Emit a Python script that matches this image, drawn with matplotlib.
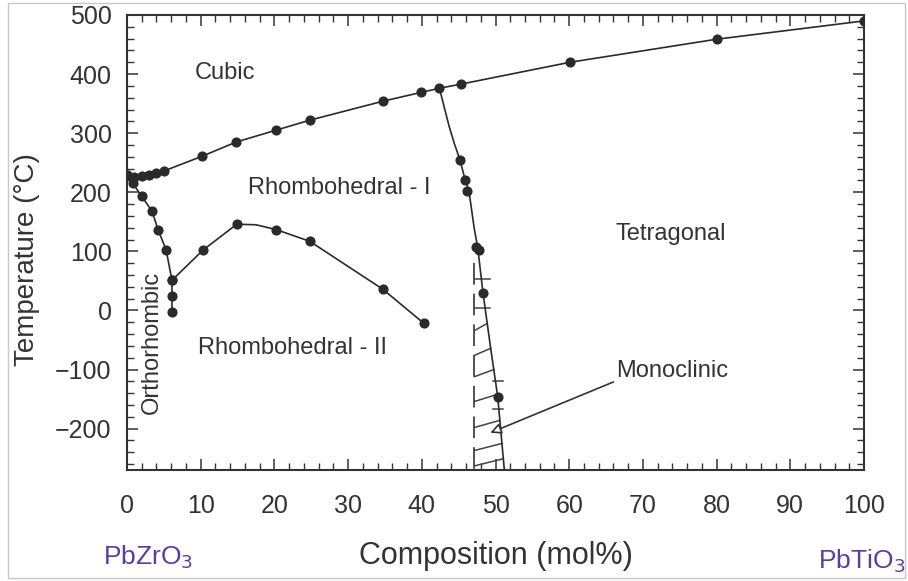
import numpy as np
import matplotlib
matplotlib.use("Agg")
import matplotlib.pyplot as plt
from matplotlib.patches import Rectangle
from matplotlib.ticker import MultipleLocator

plt.rcParams['font.family'] = ['Liberation Sans', 'DejaVu Sans']

# ---- data ----
# Cubic / ferroelectric boundary (Curie line)
cubic_comp = [0, 1, 2, 3, 4, 5, 10.2, 14.8, 20.2, 24.8, 34.7, 39.9, 42.4, 45.3, 60.1, 80.0, 100.0]
cubic_temp = [229, 226, 228, 230, 233, 236, 261, 285, 305, 322, 354, 369, 376, 383, 420, 459, 490]

# Orthorhombic boundary
ortho_comp = [0, 0.8, 2.0, 3.4, 4.2, 5.3, 6.1, 6.1, 6.1]
ortho_temp = [229, 215, 193, 168, 137, 103, 51, 24, -3]

# Rhombohedral I / II boundary
rh_comp = [6.1, 10.3, 14.9, 17.5, 20.2, 24.8, 34.7, 40.3]
rh_temp = [51, 102, 146, 145, 137, 117, 36, -22]
rh_pts_comp = [6.1, 10.3, 14.9, 20.2, 24.8, 34.7, 40.3]
rh_pts_temp = [51, 102, 146, 137, 117, 36, -22]

# Morphotropic boundary: curve and measured points
mpb_line_comp = [42.4, 43.0, 43.7, 44.4, 45.2, 45.9, 46.4, 47.1, 47.6, 48.3, 49.3, 50.3, 51.2]
mpb_line_temp = [376, 346, 312, 283, 254, 220, 202, 140, 105, 30, -60, -146, -270]
mpb_pts_comp = [45.2, 45.9, 46.2, 47.4, 47.8, 48.3, 50.3]
mpb_pts_temp = [254, 220, 202, 107, 103, 30, -146]

# Monoclinic region
mono_left_comp = 47.15
mono_top_temp = 80
hatch_temp = [-34, -76, -112, -154, -198, -237, -263]
bar_temp = [54, 5, -119, -166]
bar_left = [47.2, 47.2, 49.7, 49.7]
bar_right = [49.2, 49.2, 51.0, 51.0]

region_labels = ["Cubic", "Rhombohedral - I", "Tetragonal", "Rhombohedral - II", "Monoclinic"]
region_x = [9.2, 16.4, 66.3, 9.6, 66.3]
region_y = [402, 207, 130, -64, -102]

xticks = list(range(0, 101, 10))
yticks = list(range(-200, 501, 100))

# ---- figure ----
W, H = 908, 581
fig = plt.figure(figsize=(W / 100, H / 100), dpi=100)
ax = fig.add_axes([127 / W, 1 - 470 / H, (864 - 127) / W, (470 - 15) / H])

lc = '#2a2a2a'
tc = '#333333'

ax.plot(cubic_comp, cubic_temp, '-', color=lc, lw=1.2, marker='o', ms=6.3, zorder=3)
ax.plot(ortho_comp, ortho_temp, '-', color=lc, lw=1.2, marker='o', ms=6.3, zorder=3)
ax.plot(rh_comp, rh_temp, '-', color=lc, lw=1.2, zorder=3)
ax.plot(rh_pts_comp, rh_pts_temp, 'o', color=lc, ms=6.3, zorder=4)
ax.plot(mpb_line_comp, mpb_line_temp, '-', color=lc, lw=1.2, zorder=3)
ax.plot(mpb_pts_comp, mpb_pts_temp, 'o', color=lc, ms=6.3, zorder=4)

# monoclinic hatched region
ax.plot([mono_left_comp, mono_left_comp], [mono_top_temp, -270], color='#444', lw=1.3,
        dashes=(12, 5), zorder=2)
lc_sorted_T = np.array(mpb_line_temp[::-1])
lc_sorted_C = np.array(mpb_line_comp[::-1])
for t in hatch_temp:
    t2 = t + 12
    c2 = np.interp(t2, lc_sorted_T, lc_sorted_C)
    ax.plot([mono_left_comp, c2], [t, t2], color='#444', lw=1.1, zorder=2)
for t, l, r in zip(bar_temp, bar_left, bar_right):
    ax.plot([l, r], [t, t], color='#444', lw=1.1, zorder=2)

# labels
for s, x, y in zip(region_labels, region_x, region_y):
    ax.text(x, y, s, fontsize=17, color=tc, ha='left', va='center')
ax.text(3.4, -54, "Orthorhombic", fontsize=17, color=tc, rotation=90, ha='center', va='center')

ax.annotate('', xy=(49.3, -207), xytext=(66.0, -121),
            arrowprops=dict(arrowstyle='-|>', color='#333', lw=1.2, fc='white',
                            mutation_scale=16, shrinkA=0, shrinkB=0))

ax.set_xlim(0, 100)
ax.set_ylim(-270, 500)
ax.set_xticks(xticks)
ax.set_yticks(yticks)
ax.xaxis.set_minor_locator(MultipleLocator(2))
ax.yaxis.set_minor_locator(MultipleLocator(20))
ax.tick_params(which='both', direction='in', top=True, right=True, colors='#333')
ax.tick_params(which='major', length=8, width=1.1)
ax.tick_params(which='minor', length=5, width=1.0)
ax.tick_params(axis='x', which='major', labelsize=18, pad=17, labelcolor=tc)
ax.tick_params(axis='y', which='major', labelsize=18, pad=11, labelcolor=tc)
for sp in ax.spines.values():
    sp.set_linewidth(1.5)
    sp.set_color('#333')

ax.set_xlabel("Composition (mol%)", fontsize=22, color=tc)
ax.xaxis.set_label_coords(0.5, -0.155)
ax.set_ylabel("Temperature (°C)", fontsize=20, color=tc)
ax.yaxis.set_label_coords(-0.118, 0.463)

purple = '#5b3d9e'
fig.text(103 / W, 1 - 557 / H, "PbZrO$_3$", fontsize=19, color=purple, ha='left', va='center')
fig.text(818 / W, 1 - 561 / H, "PbTiO$_3$", fontsize=19, color=purple, ha='left', va='center')

fig.add_artist(Rectangle((8 / W, 3 / H), (905 - 8) / W, (578 - 3) / H, transform=fig.transFigure,
                         fill=False, edgecolor='#c8c8c8', lw=1.0))

fig.savefig("out.png", dpi=100)
